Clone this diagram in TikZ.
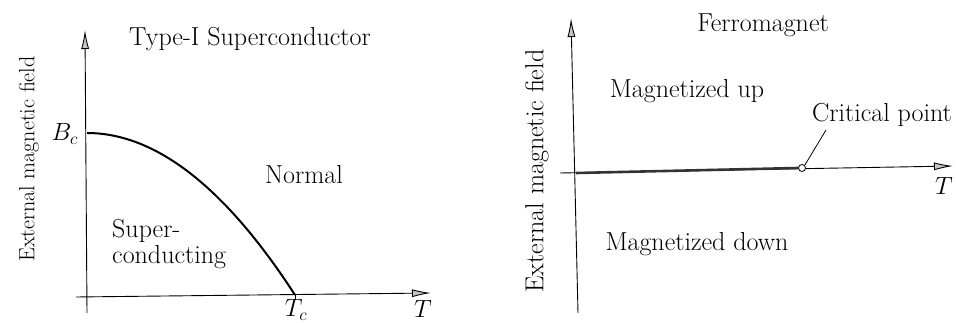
\documentclass[tikz,border=0pt]{standalone}
\usetikzlibrary{arrows.meta}
\begin{document}
\begin{tikzpicture}[x=1pt,y=-1pt,
  axis/.style={line width=0.9pt,-{Latex[length=19pt,width=8pt,fill=gray!45]}},
  lbl/.style={font=\fontsize{26}{30}\selectfont,inner sep=0pt},
  thickcurve/.style={line width=2pt},
  firstorder/.style={line width=2.6pt,draw=black!80}]
\useasboundingbox (0,0) rectangle (956,323);
% ---------- left: superconductor ----------
\coordinate (yb1) at (87,313);
\coordinate (yt1) at (85,30);
\coordinate (xl1) at (76,297);
\coordinate (xr1) at (431,293);
\draw[axis] (yb1) -- (yt1);
\draw[axis] (xl1) -- (xr1);
\coordinate (bc) at (87,133);
\coordinate (tc) at (295,295);
\draw[thickcurve] (bc) .. controls (155.7,133) and (225.3,187.3) .. (tc);
\coordinate (tctick) at (295,300);
\draw[line width=0.8pt] (tc) -- (tctick);
\node[lbl,anchor=north] (tclab) at (296,299.5) {$T_c$};
\node[lbl,anchor=east] (bclab) at (78,134) {$B_c$};
\node[lbl,anchor=base] (tlab1) at (423,317) {$T$};
\node[lbl,anchor=base] (title1) at (250,46) {Type-I Superconductor};
\node[lbl,anchor=base] (normal) at (304,184) {Normal};
\node[lbl,anchor=base west,align=left] (sc) at (112,237) {Super-};
\node[lbl,anchor=base west] (sc2) at (112,263) {conducting};
\node[lbl,anchor=center,rotate=90,font=\fontsize{22}{26}\selectfont] (ylab1) at (29,159) {External magnetic field};
% ---------- right: ferromagnet ----------
\coordinate (yb2) at (578,313);
\coordinate (yt2) at (571,18);
\coordinate (xl2) at (560,173);
\coordinate (xr2) at (953,166);
\draw[axis] (yb2) -- (yt2);
\draw[axis] (xl2) -- (xr2);
\node[circle,draw,fill=white,line width=0.8pt,minimum size=7pt,inner sep=0pt] (cp) at (802,168) {};
\draw[firstorder] (576,173) -- (cp.west);
\coordinate (cpl) at (826,130);
\draw[line width=0.8pt] (cp.north east) -- (cpl);
\node[lbl,anchor=base] (title2) at (763,32) {Ferromagnet};
\node[lbl,anchor=base] (up) at (687,98) {Magnetized up};
\node[lbl,anchor=base] (down) at (697,251) {Magnetized down};
\node[lbl,anchor=base] (cplab) at (882,122) {Critical point};
\node[lbl,anchor=base] (tlab2) at (944,195) {$T$};
\node[lbl,anchor=center,rotate=90] (ylab2) at (537,171) {External magnetic field};
\end{tikzpicture}
\end{document}
